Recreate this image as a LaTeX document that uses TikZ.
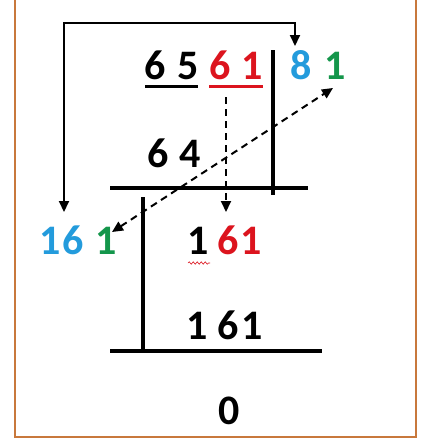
\documentclass[tikz,border=0pt]{standalone}
\usepackage{fontspec}
\setmainfont{Carlito}
\usetikzlibrary{arrows.meta,decorations.pathmorphing}
\definecolor{dblue}{RGB}{35,155,220}
\definecolor{dgreen}{RGB}{20,150,75}
\definecolor{dred}{RGB}{220,20,30}
\definecolor{frame}{RGB}{200,120,60}
\begin{document}
\begin{tikzpicture}[x=1pt,y=-1pt,
  dig/.style={anchor=base,inner sep=0pt,font=\fontsize{42}{44}\selectfont\bfseries},
  bar/.style={line width=3.5pt},
  uline/.style={line width=3pt},
  dashln/.style={line width=2pt,dash pattern=on 7pt off 5pt}]
\useasboundingbox (0,0) rectangle (432,445);
\fill[white] (0,0) rectangle (432,445);
% frame
\draw[frame,line width=2pt] (15,-10) -- (15,437) -- (416,437) -- (416,-10);
% row 1
\node[dig] (a1) at (155,79) {6};
\node[dig] (a2) at (188,79) {5};
\node[dig,text=dred] (a3) at (220,79) {6};
\node[dig,text=dred] (a4) at (252,79) {1};
\node[dig,text=dblue] (q1) at (301,79) {8};
\node[dig,text=dgreen] (q2) at (335,79) {1};
\draw[uline] (145,86) -- (198,86);
\draw[uline,dred] (209,86) -- (263,86);
% row 64
\node[dig] (b1) at (158,167) {6};
\node[dig] (b2) at (190,167) {4};
% row 16 1
\node[dig,text=dblue] (c1) at (50,254) {1};
\node[dig,text=dblue] (c2) at (73,254) {6};
\node[dig,text=dgreen] (c3) at (106,254) {1};
% row 1 61
\node[dig] (d1) at (198,254) {1};
\node[dig,text=dred] (d2) at (228,254) {6};
\node[dig,text=dred] (d3) at (251,254) {1};
\draw[dred,line width=0.6pt,decorate,decoration={snake,amplitude=1.2pt,segment length=4pt}] (188,263) -- (210,263);
% row 1 61 black
\node[dig] (e1) at (197,339) {1};
\node[dig] (e2) at (228,339) {6};
\node[dig] (e3) at (252,339) {1};
% 0
\node[dig] (z) at (229,424) {0};
% division bars
\coordinate (v1t) at (273,50);
\coordinate (v1b) at (273,195);
\coordinate (h1l) at (110,188);
\coordinate (h1r) at (308,188);
\coordinate (v2t) at (143,197);
\coordinate (v2b) at (143,351);
\coordinate (h2l) at (110,351);
\coordinate (h2r) at (322,351);
\draw[bar] (v1t) -- (v1b);
\draw[bar] (h1l) -- (h1r);
\draw[bar] (v2t) -- (v2b);
\draw[bar] (h2l) -- (h2r);
% loop arrow
\coordinate (la) at (64,212);
\coordinate (lb) at (295,46);
\draw[line width=2pt,{Triangle[width=10pt,length=11pt]}-{Triangle[width=10pt,length=11pt]}] (la) -- (64,23) -- (295,23) -- (lb);
% dashed vertical
\coordinate (dv1) at (226,97);
\coordinate (dv2) at (226,212);
\draw[dashln,-{Triangle[width=10pt,length=11pt]}] (dv1) -- (dv2);
% dashed diagonal
\coordinate (dg1) at (112,232);
\coordinate (dg2) at (333,88);
\draw[dashln,{Triangle[width=10pt,length=11pt]}-{Triangle[width=10pt,length=11pt]}] (dg1) -- (dg2);
\end{tikzpicture}
\end{document}
